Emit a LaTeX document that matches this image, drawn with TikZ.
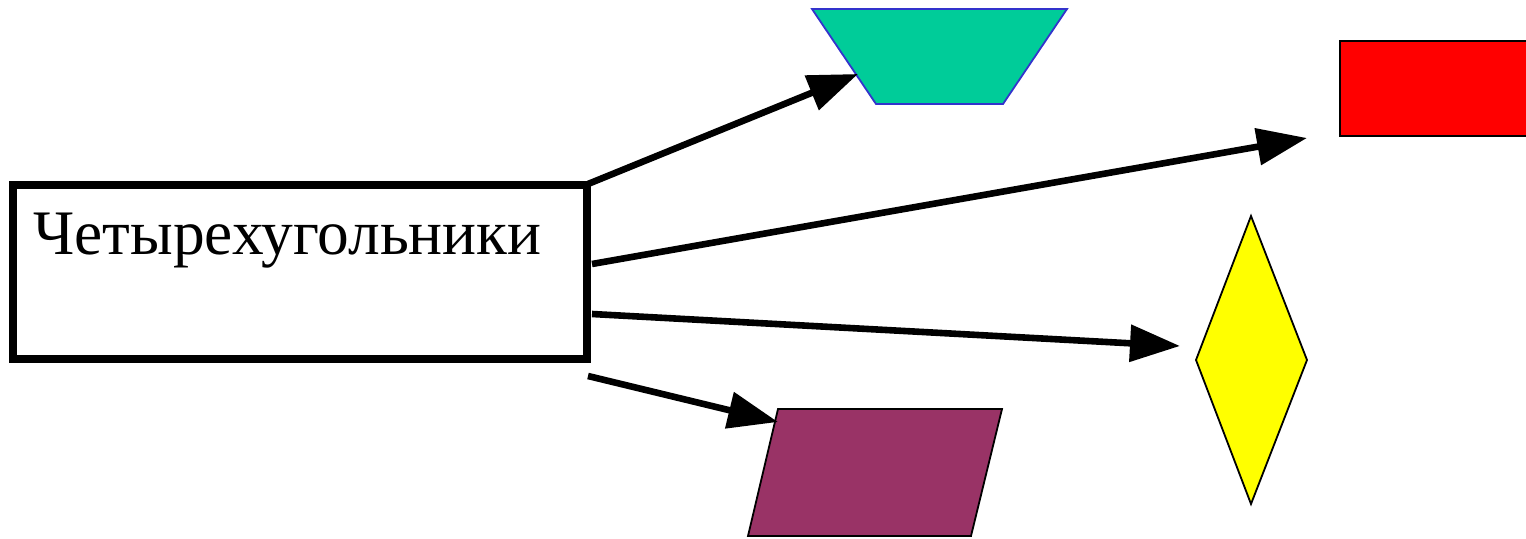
\documentclass[tikz,border=0pt]{standalone}
\usepackage{fontspec}
\setmainfont{Liberation Serif}
\usetikzlibrary{arrows.meta}
\definecolor{teal1}{HTML}{00CC99}
\definecolor{tealline}{HTML}{3333CC}
\definecolor{purp}{HTML}{993366}
\definecolor{yel}{HTML}{FFFF00}
\definecolor{redd}{HTML}{FF0000}
\tikzset{
  conn/.style={line width=3.3pt, -{Triangle[length=25pt,width=18pt]}},
  shapeline/.style={line width=0.9pt},
}
\begin{document}
\begin{tikzpicture}[x=0.5pt,y=-0.5pt]
\useasboundingbox (0,0) rectangle (1526,539);
% main box
\node[draw, line width=3.8pt, outer sep=0pt, minimum width=287pt, minimum height=87pt, inner sep=0pt, anchor=north west] (main) at (13,185) {};
\node[anchor=base west, inner sep=0pt, font=\fontsize{31.7}{38}\selectfont] (label) at (33,255) {Четырехугольники};
% trapezoid
\coordinate (t1) at (812,9); \coordinate (t2) at (1067,9);
\coordinate (t3) at (1003,104); \coordinate (t4) at (876,104);
\filldraw[fill=teal1, draw=tealline, shapeline] (t1) -- (t2) -- (t3) -- (t4) -- cycle;
% red rectangle
\coordinate (r1) at (1340,41); \coordinate (r2) at (1527,136);
\filldraw[fill=redd, draw=black, shapeline] (r1) rectangle (r2);
% diamond
\coordinate (d1) at (1251,216); \coordinate (d2) at (1307,360);
\coordinate (d3) at (1251,504); \coordinate (d4) at (1196,360);
\filldraw[fill=yel, draw=black, shapeline] (d1) -- (d2) -- (d3) -- (d4) -- cycle;
% parallelogram
\coordinate (p1) at (778,409); \coordinate (p2) at (1002,409);
\coordinate (p3) at (971,536); \coordinate (p4) at (748,536);
\filldraw[fill=purp, draw=black, shapeline] (p1) -- (p2) -- (p3) -- (p4) -- cycle;
% arrow endpoints
\coordinate (s1) at (588,184); \coordinate (e1) at (858,74);
\coordinate (s2) at (592,264); \coordinate (e2) at (1307,138);
\coordinate (s3) at (592,314); \coordinate (e3) at (1180,346);
\coordinate (s4) at (588,376); \coordinate (e4) at (778,422);
\draw[conn] (s1) -- (e1);
\draw[conn] (s2) -- (e2);
\draw[conn] (s3) -- (e3);
\draw[conn] (s4) -- (e4);
\end{tikzpicture}
\end{document}
